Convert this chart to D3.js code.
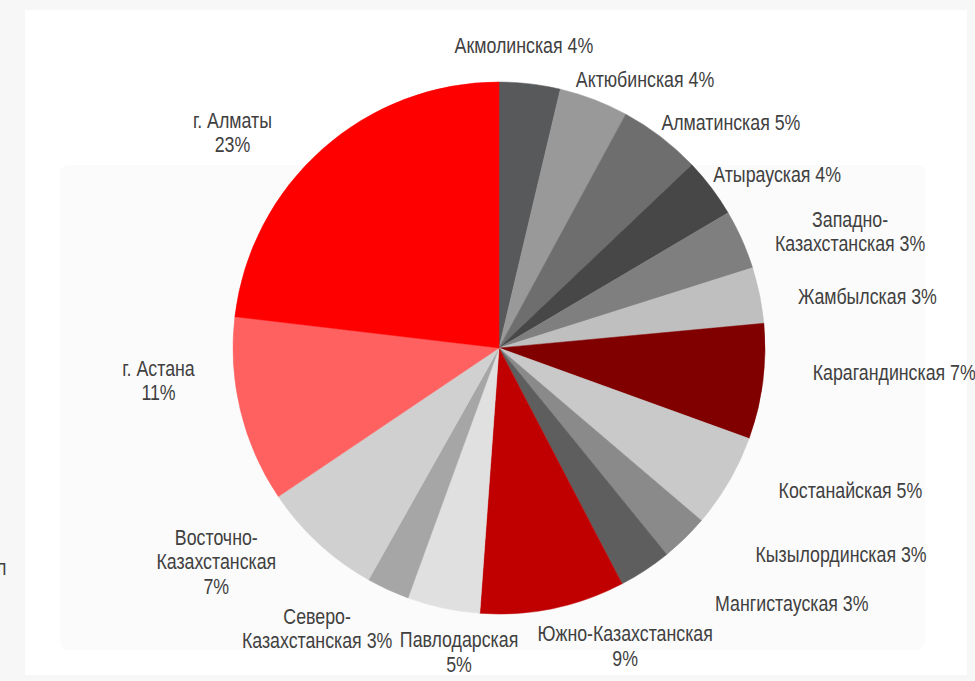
<!DOCTYPE html>
<html>
<head>
<meta charset="utf-8">
<script src="https://cdn.jsdelivr.net/npm/d3@7"></script>
<style>
  html, body { margin: 0; padding: 0; background: #f7f7f7; }
  svg { display: block; }
  text { font-family: "Liberation Sans", Arial, sans-serif; fill: #404040; }
</style>
</head>
<body>
<svg></svg>
<script>
// regions, clockwise from 12 o'clock
const regions = ["Акмолинская", "Актюбинская", "Алматинская", "Атырауская", "Западно-Казахстанская",
  "Жамбылская", "Карагандинская", "Костанайская", "Кызылординская", "Мангистауская",
  "Южно-Казахстанская", "Павлодарская", "Северо-Казахстанская", "Восточно-Казахстанская",
  "г. Астана", "г. Алматы"];
// share of the total, %
const shares = [3.7, 4.2, 5.0, 3.6, 3.6, 3.4, 7.0, 5.7, 2.9, 3.2, 8.8, 4.4, 2.6, 7.4, 11.3, 23.1];
// label texts as printed on the chart
const labelLines = [
  ["Акмолинская 4%"], ["Актюбинская 4%"], ["Алматинская 5%"], ["Атырауская 4%"],
  ["Западно-", "Казахстанская 3%"], ["Жамбылская 3%"], ["Карагандинская 7%"],
  ["Костанайская 5%"], ["Кызылординская 3%"], ["Мангистауская 3%"],
  ["Южно-Казахстанская", "9%"], ["Павлодарская", "5%"], ["Северо-", "Казахстанская 3%"],
  ["Восточно-", "Казахстанская", "7%"], ["г. Астана", "11%"], ["г. Алматы", "23%"]
];
const colors = ["#58595b", "#999999", "#6e6e6e", "#474747", "#7f7f7f", "#bfbfbf", "#800000",
  "#c9c9c9", "#8a8a8a", "#5e5e5e", "#c00000", "#e0e0e0", "#a6a6a6", "#d0d0d0", "#ff6161", "#ff0000"];

// label placement (angle from 12 o'clock in degrees, distance from centre)
const labelAngle = [4.7, 28.5, 45.7, 58, 71.6, 82, 93.5, 112, 121, 131, 157, 187.5, 213, 233, 264.6, 309];
const labelRadius = [304, 306, 324, 328, 370, 372, 396, 379, 399, 388, 323, 306, 334, 354, 342, 343];

const width = 975, height = 681;
const cx = 499, cy = 348, radius = 266;
const squeeze = 0.79;  // the original font is a narrow face

const svg = d3.select("svg").attr("width", width).attr("height", height);

// faint screenshot panels behind the chart
svg.append("rect").attr("x", 25).attr("y", 10).attr("width", 942).attr("height", 665)
  .attr("fill", "#ffffff");
svg.append("rect").attr("x", 60).attr("y", 165).attr("width", 865).attr("height", 485)
  .attr("rx", 8).attr("fill", "#fbfbfb");

const g = svg.append("g").attr("transform", "translate(" + cx + "," + cy + ")");

const pie = d3.pie().sort(null).value(d => d);
const arcs = pie(shares);
const arc = d3.arc().innerRadius(0).outerRadius(radius);

g.selectAll("path").data(arcs)
  .enter().append("path")
    .attr("d", arc)
    .attr("fill", (d, i) => colors[i])
    .attr("stroke", (d, i) => colors[i])
    .attr("stroke-width", 0.5);

const lineH = 24.5;
g.selectAll("text.label").data(arcs)
  .enter().append("text")
    .attr("class", "label")
    .attr("text-anchor", "middle")
    .attr("font-size", 22.5)
    .each(function(d, i) {
      const a = labelAngle[i] * Math.PI / 180;
      const p = d3.arc().innerRadius(labelRadius[i]).outerRadius(labelRadius[i])
        .centroid({startAngle: a, endAngle: a});
      const lines = labelLines[i];
      const y0 = -(lines.length - 1) * lineH / 2 + 8;
      const t = d3.select(this)
        .attr("transform", "translate(" + p[0] + "," + p[1] + ") scale(" + squeeze + ",1)");
      lines.forEach((s, k) => {
        t.append("tspan").attr("x", 0).attr("y", y0 + k * lineH).text(s);
      });
    });

// clipped fragment at the left edge of the screenshot
svg.append("text").attr("x", -4).attr("y", 575).attr("font-size", 22.5)
  .attr("transform", "scale(" + squeeze + ",1)").text("п");
</script>
</body>
</html>
